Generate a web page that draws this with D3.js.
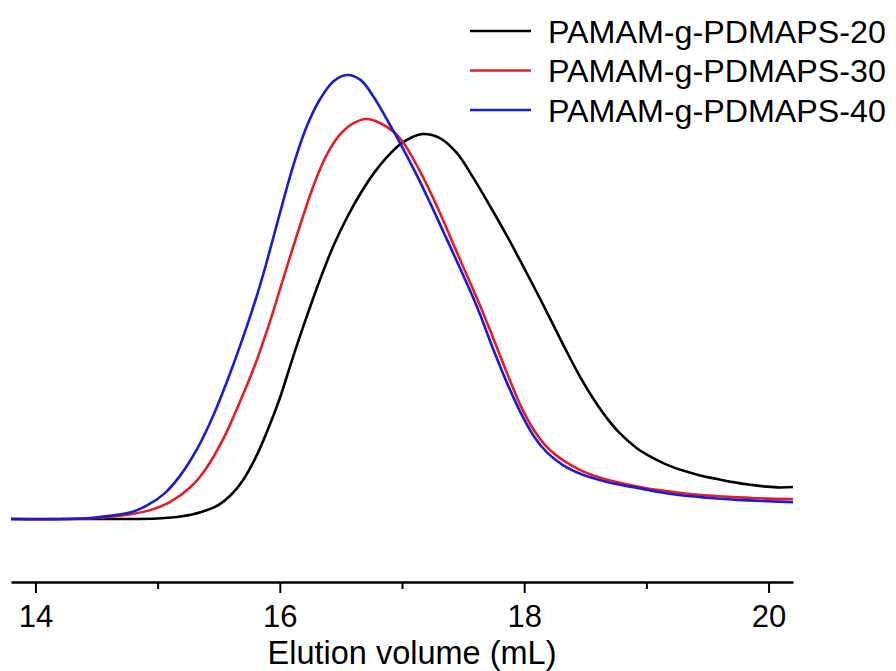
<!DOCTYPE html>
<html>
<head>
<meta charset="utf-8">
<script src="https://cdn.jsdelivr.net/npm/d3@7"></script>
<style>
  body { margin: 0; background: #fff; }
  svg { display: block; font-family: "Liberation Sans", Arial, sans-serif; }
</style>
</head>
<body>
<svg width="896" height="671"></svg>
<script>
// elution volume (mL) and detector signal (a.u.)
const volume20 = [13.8, 14.6, 15.0, 15.2, 15.35, 15.5, 15.6, 15.7, 15.8, 15.9, 16.0, 16.1, 16.2, 16.33, 16.44, 16.55, 16.66, 16.77, 16.88, 16.98, 17.09, 17.17, 17.31, 17.45, 17.58, 17.72, 17.86, 17.99, 18.13, 18.24, 18.35, 18.46, 18.57, 18.68, 18.78, 18.92, 19.03, 19.17, 19.3, 19.44, 19.58, 19.71, 19.85, 19.98, 20.09, 20.2];
const signal20 = [0, 0, 0.1, 0.6, 1.5, 3.2, 5.4, 8.8, 13.7, 20.0, 27.2, 35.8, 44.0, 54.0, 61.6, 67.9, 73.3, 77.9, 81.6, 84.3, 86.1, 86.7, 85.8, 82.4, 77.0, 70.5, 63.7, 57.0, 49.6, 43.6, 37.6, 31.9, 26.9, 22.6, 19.4, 16.0, 14.1, 12.2, 10.9, 9.8, 9.0, 8.3, 7.7, 7.3, 7.1, 7.2];

const volume30 = [13.8, 14.4, 14.78, 14.94, 15.1, 15.27, 15.4, 15.54, 15.68, 15.8, 15.92, 16.03, 16.17, 16.28, 16.38, 16.49, 16.6, 16.71, 16.82, 16.93, 17.0, 17.15, 17.3, 17.45, 17.64, 17.75, 17.86, 17.97, 18.08, 18.19, 18.32, 18.46, 18.59, 18.73, 18.95, 19.1, 19.3, 19.5, 19.75, 20.0, 20.2];
const signal30 = [0, 0.1, 1.1, 2.0, 3.8, 7.2, 11.5, 18.2, 26.8, 34.9, 44.5, 54.3, 66.5, 75.4, 81.8, 86.5, 89.1, 90.1, 89.2, 87.2, 85.2, 78.2, 69.6, 60.0, 48.0, 40.5, 32.8, 25.6, 20.0, 16.1, 13.2, 11.0, 9.6, 8.5, 7.2, 6.5, 5.8, 5.3, 4.9, 4.6, 4.5];

const volume40 = [13.8, 14.4, 14.6, 14.78, 14.91, 15.05, 15.18, 15.32, 15.46, 15.59, 15.73, 15.82, 15.89, 16.0, 16.11, 16.22, 16.33, 16.44, 16.55, 16.66, 16.77, 16.87, 16.97, 17.12, 17.23, 17.34, 17.45, 17.58, 17.64, 17.75, 17.86, 17.97, 18.08, 18.19, 18.32, 18.46, 18.59, 18.73, 18.95, 19.1, 19.3, 19.5, 19.75, 20.0, 20.2];
const signal40 = [0, 0.1, 0.7, 1.5, 3.0, 5.6, 9.6, 15.6, 23.6, 32.6, 43.4, 51.0, 57.6, 68.8, 79.6, 88.4, 94.6, 98.6, 100.0, 98.9, 95.0, 90.3, 85.4, 77.5, 71.2, 64.6, 58.0, 50.0, 46.0, 38.0, 30.6, 24.0, 18.6, 14.9, 12.1, 10.2, 9.0, 8.0, 6.9, 6.1, 5.3, 4.8, 4.3, 4.0, 3.8];

const seriesNames  = ["PAMAM-g-PDMAPS-20", "PAMAM-g-PDMAPS-30", "PAMAM-g-PDMAPS-40"];
const seriesColors = ["#000000", "#e41e26", "#1b1bd6"];
const majorTicks = [14, 16, 18, 20];
const minorTicks = [15, 17, 19];

const series = [
  { name: seriesNames[0], color: seriesColors[0], pts: volume20.map((v, i) => [v, signal20[i]]) },
  { name: seriesNames[1], color: seriesColors[1], pts: volume30.map((v, i) => [v, signal30[i]]) },
  { name: seriesNames[2], color: seriesColors[2], pts: volume40.map((v, i) => [v, signal40[i]]) }
];

const svg = d3.select("svg");

const x = d3.scaleLinear().domain([13.8, 20.2]).range([11, 793]);
const y = d3.scaleLinear().domain([0, 100]).range([519, 75]);
const axisY = 582;

// bottom axis: major ticks with labels
const gx = svg.append("g")
  .attr("transform", `translate(0,${axisY})`)
  .call(d3.axisBottom(x).tickValues(majorTicks).tickSize(11).tickSizeOuter(0).tickPadding(12).tickFormat(d3.format("d")));
gx.select(".domain").attr("stroke", "#000").attr("stroke-width", 2.5);
gx.selectAll(".tick line").attr("stroke", "#000").attr("stroke-width", 2);
gx.selectAll(".tick text").attr("fill", "#000").style("font-size", "31px");

// minor ticks
svg.append("g")
  .attr("transform", `translate(0,${axisY})`)
  .call(d3.axisBottom(x).tickValues(minorTicks).tickSize(7).tickSizeOuter(0).tickFormat(""))
  .call(g => g.select(".domain").remove())
  .selectAll(".tick line").attr("stroke", "#000").attr("stroke-width", 2);

svg.append("text")
  .attr("x", 412)
  .attr("y", 664)
  .attr("text-anchor", "middle")
  .style("font-size", "32.5px")
  .text("Elution volume (mL)");

// curves
const line = d3.line()
  .x(d => x(d[0]))
  .y(d => y(d[1]))
  .curve(d3.curveCatmullRom.alpha(0.5));

svg.append("g").selectAll("path")
  .data(series)
  .join("path")
    .attr("fill", "none")
    .attr("stroke", d => d.color)
    .attr("stroke-width", 2.6)
    .attr("d", d => line(d.pts));

// legend
const legend = svg.append("g").attr("transform", "translate(470,31)");
const rows = legend.selectAll("g")
  .data(series)
  .join("g")
    .attr("transform", (d, i) => `translate(0,${i * 39.5})`);
rows.append("line")
  .attr("x1", 0).attr("x2", 61)
  .attr("stroke", d => d.color)
  .attr("stroke-width", 2.6);
const labels = rows.append("text")
  .attr("x", 78)
  .attr("y", 11)
  .style("font-size", "30px")
  .text(d => d.name);

// fit legend text to the width seen in the figure (~338 px)
const w0 = labels.node().getComputedTextLength();
const fs = Math.min(33, 30 * 338 / w0);
labels.style("font-size", fs + "px").attr("y", fs * 0.36);
</script>
</body>
</html>
